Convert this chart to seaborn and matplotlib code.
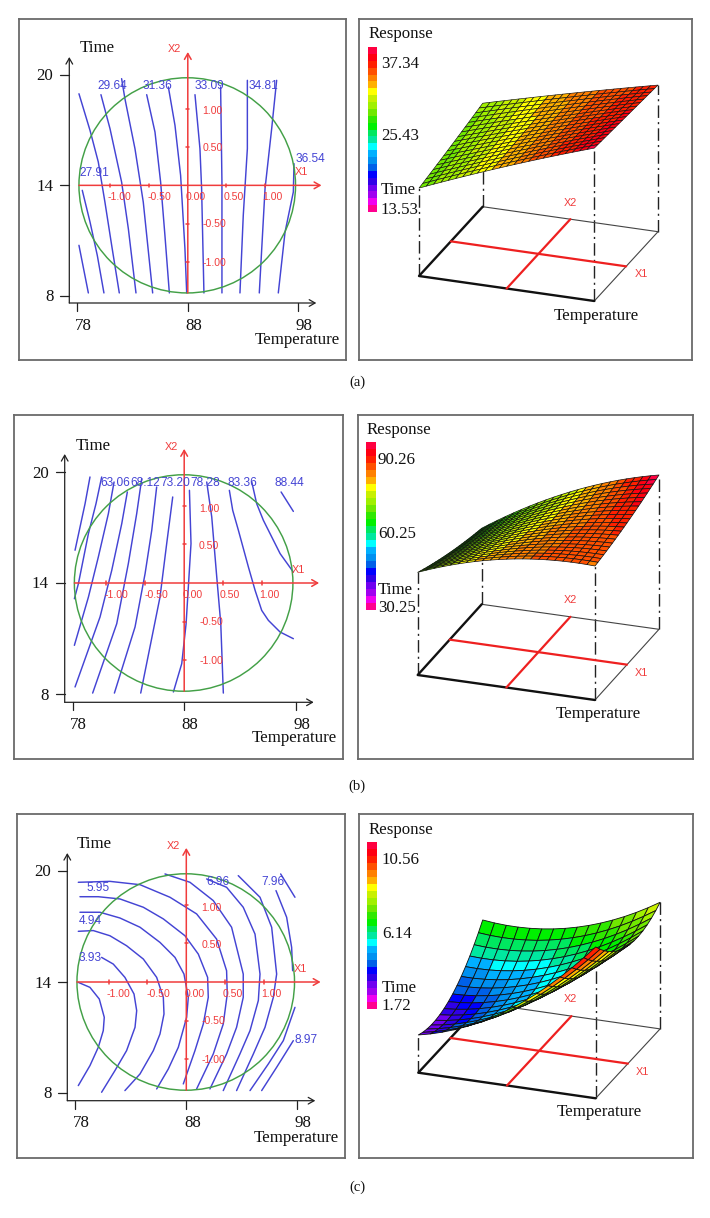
import numpy as np
import matplotlib
matplotlib.use("Agg")
import matplotlib.pyplot as plt
import seaborn as sns
from matplotlib.collections import PolyCollection
from matplotlib.colors import ListedColormap, Normalize
from matplotlib.patches import Ellipse

# ---------- contour lines: (temperature, time) ----------
contours_a = [
    ([78.15, 79.00], [10.74, 8.15]),
    ([78.45, 79.15, 79.81, 80.41], [13.73, 12.01, 10.19, 8.15]),
    ([78.15, 79.15, 79.90, 80.50, 81.11, 81.80], [18.98, 16.99, 15.27, 13.09, 10.74, 8.15]),
    ([80.14, 80.96, 82.01, 82.62, 83.31], [18.93, 17.08, 14.18, 11.64, 8.15]),
    ([82.01, 82.31, 83.22, 83.97, 84.82], [19.80, 18.71, 15.99, 13.09, 8.15]),
    ([84.28, 85.03, 85.54, 85.93, 86.33], [18.93, 16.90, 14.18, 11.28, 8.15]),
    ([86.24, 86.84, 87.35, 87.74, 87.90], [19.35, 17.26, 14.54, 10.56, 8.15]),
    ([88.65, 89.10, 89.25, 89.46], [18.93, 15.99, 13.82, 8.15]),
    ([90.97, 91.09, 91.09], [19.35, 14.18, 8.15]),
    ([93.39, 93.39, 93.02, 92.72], [19.71, 15.99, 12.37, 8.15]),
    ([96.04, 95.59, 94.99, 94.47], [19.71, 17.08, 13.82, 8.15]),
    ([97.61, 97.55, 96.80, 96.19], [15.18, 13.64, 11.46, 8.15]),
]
contours_b = [
    ([79.55, 79.11, 78.21], [19.73, 18.29, 15.77]),
    ([80.60, 80.09, 79.41, 78.51, 78.15], [19.73, 18.29, 16.67, 13.96, 13.15]),
    ([81.71, 81.20, 80.30, 79.41, 78.15], [19.46, 17.75, 15.41, 13.24, 10.63]),
    ([82.90, 82.40, 81.50, 80.45, 78.21], [18.92, 17.21, 14.68, 12.16, 8.38]),
    ([84.19, 83.74, 82.99, 81.95, 79.79], [19.64, 17.75, 15.05, 11.80, 8.05]),
    ([85.53, 85.09, 84.49, 83.59, 81.74], [19.19, 16.85, 14.50, 11.62, 8.05]),
    ([86.97, 86.43, 85.83, 84.10], [18.65, 16.13, 13.24, 8.05]),
    ([88.47, 88.61, 88.17, 87.78, 87.03], [19.01, 16.13, 11.80, 9.64, 8.11]),
    ([90.02, 90.47, 90.92, 91.28, 91.51], [19.46, 17.57, 14.32, 11.80, 8.05]),
    ([92.05, 92.35, 92.86, 93.76, 94.36, 94.95, 95.55, 96.60, 97.79],
     [19.01, 17.93, 16.85, 14.86, 13.60, 12.52, 11.98, 11.35, 10.99]),
    ([94.06, 94.50, 95.10, 95.70, 96.60, 97.79], [19.46, 18.29, 17.39, 16.67, 15.59, 14.59]),
    ([96.69, 97.79], [18.92, 17.87]),
]
contours_c = [
    ([78.27, 79.32, 80.16, 80.61, 80.52, 80.07, 79.32, 78.27],
     [13.98, 13.71, 13.08, 12.09, 11.37, 10.47, 9.48, 8.40]),
    ([80.37, 81.42, 82.47, 83.29, 83.53, 83.38, 82.62, 81.57, 80.37],
     [15.33, 14.97, 14.25, 13.35, 12.45, 11.55, 10.29, 9.21, 8.04]),
    ([78.27, 79.62, 81.12, 82.62, 84.13, 85.33, 85.93, 85.99, 85.63, 85.03, 83.83, 82.47],
     [16.74, 16.78, 16.50, 15.96, 15.24, 14.25, 13.17, 12.27, 11.19, 10.29, 9.03, 8.13]),
    ([78.42, 80.22, 82.02, 83.83, 85.63, 86.98, 87.79, 88.18, 88.03, 87.28, 86.38, 85.33],
     [17.77, 17.77, 17.46, 16.96, 16.14, 15.33, 14.43, 13.17, 12.09, 10.47, 9.30, 8.22]),
    ([78.42, 80.07, 82.02, 84.13, 85.93, 87.88, 89.08, 89.92, 89.98, 89.53, 88.78, 87.73],
     [18.61, 18.61, 18.49, 18.04, 17.41, 16.50, 15.51, 14.25, 13.17, 11.73, 10.29, 8.49]),
    ([78.27, 81.12, 83.83, 86.53, 88.93, 90.73, 91.63, 91.69, 91.33, 90.43, 88.93],
     [19.39, 19.44, 19.26, 18.58, 17.68, 16.32, 14.61, 13.35, 11.73, 10.11, 8.22]),
    ([86.08, 88.33, 90.43, 92.08, 93.13, 93.13, 92.53, 91.63, 90.13],
     [19.84, 19.39, 18.40, 16.96, 14.43, 13.17, 11.55, 10.11, 8.22]),
    ([89.83, 91.63, 93.13, 94.19, 94.64, 94.49, 93.74, 92.83, 91.33],
     [19.57, 19.12, 18.04, 16.59, 14.43, 13.00, 11.37, 10.11, 8.13]),
    ([92.68, 94.64, 95.69, 96.14, 95.84, 95.09, 94.04, 92.53],
     [19.75, 18.58, 16.96, 14.43, 13.17, 11.55, 10.11, 8.13]),
    ([96.08, 97.04, 97.49, 97.58], [18.94, 17.50, 15.87, 14.61]),
    ([97.79, 96.74, 95.39, 93.74], [12.63, 10.83, 9.57, 8.13]),
    ([96.50, 97.79], [19.84, 18.58]),
    ([97.64, 96.14, 94.79], [10.83, 9.39, 8.13]),
]

# Response read at nine grid nodes of each surface (rows: Time 20, 14, 8; columns:
# Temperature 78, 88, 98). The fine mesh is a drawing refinement through these nodes.
height_a = [[29.3, 33.6, 37.6], [27.7, 33.2, 38.2], [26.3, 32.9, 38.8]]
colour_a = [[29.5, 34.0, 37.0], [29.0, 33.8, 37.8], [28.5, 33.8, 39.0]]
height_b = [[51.5, 78.2, 94.2], [57.5, 77.8, 87.3], [66.0, 80.0, 83.1]]
colour_b = [[64.0, 76.0, 96.0], [66.0, 80.0, 90.0], [68.0, 84.0, 85.0]]
height_c = [[5.83, 6.17, 8.80], [2.86, 4.27, 8.19], [2.70, 5.26, 10.50]]
colour_c = [[7.2, 7.2, 8.6], [3.6, 5.4, 7.8], [2.4, 8.0, 11.2]]

labels_a = ["29.64", "31.36", "33.09", "34.81", "36.54", "27.91"]
labels_b = ["63.06", "68.12", "73.20", "78.28", "83.36", "88.44"]
labels_c = ["5.95", "6.96", "7.96", "4.94", "3.93", "8.97"]
bar_a = ["37.34", "25.43", "13.53"]
bar_b = ["90.26", "60.25", "30.25"]
bar_c = ["10.56", "6.14", "1.72"]
coded_ticks = ["-1.00", "-0.50", "0.00", "0.50", "1.00"]
coded_vals = [-1.0, -0.5, 0.5, 1.0]
axis_temps = [78, 88, 98]
axis_times = [20, 14, 8]

band_colours = ['#ff0040', '#ff0010', '#ff2000', '#ff5000', '#ff8000', '#ffb000', '#ffff00', '#c8f000',
                '#a0f000', '#70e800', '#30e800', '#00f000', '#00e860', '#00e8a0', '#00ffff', '#00b0ff',
                '#0090f0', '#0060e8', '#0000ff', '#3000e8', '#7000f0', '#a000f0', '#f000f0', '#ff0090']

sns.set_theme(style="white")
W, H = 710, 1218
fig = plt.figure(figsize=(W / 100, H / 100), dpi=100, facecolor="white")
SERIF = "Liberation Serif"
SANS = "Liberation Sans"
BLUE, RED, GREEN, FRAME = "#4444d4", "#f03c3c", "#43a047", "#6a6a6a"
overlay = fig.add_axes([0, 0, 1, 1], zorder=10)
overlay.set_xlim(0, W); overlay.set_ylim(H, 0); overlay.axis("off"); overlay.patch.set_alpha(0)


def put(x, y, s, size=12.2, color="#111111", family=SERIF, ha="center"):
    dy = 1.5 if family == SERIF else 0
    overlay.text(x, y + dy, s, fontsize=size, color=color, family=family, ha=ha, va="center")


def px_axes(x0, y0, x1, y1):
    ax = fig.add_axes([x0 / W, 1 - y1 / H, (x1 - x0) / W, (y1 - y0) / H])
    ax.set_xticks([]); ax.set_yticks([])
    for s in ax.spines.values():
        s.set_color(FRAME); s.set_linewidth(1.3); s.set_visible(True)
    return ax


def arrow(ax, a, b, color, lw):
    ax.annotate("", xy=b, xytext=a, annotation_clip=False,
                arrowprops=dict(arrowstyle="->,head_length=0.35,head_width=0.2", color=color, lw=lw,
                                shrinkA=0, shrinkB=0))


def left_panel(frame, x78, x98, y20, y8, spx, spy, lines, labels, label_pos, time_pos, temp_pos):
    ax = px_axes(*frame)
    sx = (x98 - x78) / 20.0
    sy = (y8 - y20) / 12.0
    T = lambda p: 78 + (p - x78) / sx
    t = lambda p: 20 - (p - y20) / sy
    for xs, ys in lines:
        sns.lineplot(x=xs, y=ys, sort=False, estimator=None, color=BLUE, lw=1.05, ax=ax, legend=False, zorder=2)
    ax.set_xlabel(""); ax.set_ylabel("")
    ax.set_xticks([]); ax.set_yticks([])
    ax.add_patch(Ellipse((87.95, 14), 19.6, 11.7, fill=False, ec=GREEN, lw=1.05, zorder=3))
    # black axes
    arrow(ax, (T(spx), t(spy)), (T(x98 + 18), t(spy)), "#222222", 0.9)
    arrow(ax, (T(spx), t(spy)), (T(spx), t(y20 - 18)), "#222222", 0.9)
    for v in axis_temps:
        ax.plot([v, v], [t(spy), t(spy + 8)], color="#222222", lw=0.9)
        put(x78 + (v - 78) * sx + 6, spy + 21, str(v))
    for v in axis_times:
        yp = y20 + (20 - v) * sy
        ax.plot([T(spx - 9), T(spx)], [v, v], color="#222222", lw=0.9)
        put(spx - 16, yp, str(v), ha="right")
    # red coded axes
    arrow(ax, (78.15, 14), (100.1, 14), RED, 1.1)
    arrow(ax, (88, 8.15), (88, 21.25), RED, 1.1)
    for c in coded_vals:
        ax.plot([88 + 7 * c] * 2, [13.9, 14.1], color=RED, lw=1.1, zorder=4)
        ax.plot([87.85, 88.15], [14 + 4.17 * c] * 2, color=RED, lw=1.1, zorder=4)
    ax.set_xlim(T(frame[0]), T(frame[2]))
    ax.set_ylim(t(frame[3]), t(frame[1]))
    cx, cy = x78 + 10 * sx, y20 + 6 * sy
    for s, dx in zip(coded_ticks, [-68, -28, 8, 46, 85]):
        put(cx + dx, cy + 12, s, 7.6, RED, SANS)
    for s, dx, dy in zip(["1.00", "0.50", "-0.50", "-1.00"], [25, 25, 27, 27], [-74, -37, 39, 78]):
        put(cx + dx, cy + dy, s, 7.6, RED, SANS)
    put(cx - 13, cy - 136, "X2", 7.8, RED, SANS)
    put(cx + 114, cy - 13, "X1", 7.8, RED, SANS)
    for s, (lx, ly) in zip(labels, label_pos):
        put(lx, ly, s, 8.6, BLUE, SANS)
    put(*time_pos, "Time")
    put(*temp_pos, "Temperature")
    return ax


def refine(nodes, n_x, n_y):
    u = np.linspace(-1, 1, n_x + 1)
    v = np.linspace(-1, 1, n_y + 1)
    basis = lambda s: np.array([s * (s - 1) / 2, 1 - s ** 2, s * (s + 1) / 2])
    return basis(v).T @ np.asarray(nodes, float) @ basis(u)


def right_panel(frame, FL, FR, BL, z0, k, hgt, col, vmin, vmax, n_x, n_y, edge_lw, bar_box, bar_ticks, bar_y,
                resp_pos, bar_x, time_y, x2_pos, x1_pos, temp_pos):
    ax = px_axes(*frame)
    ax.set_xlim(frame[0], frame[2]); ax.set_ylim(frame[3], frame[1])
    FL, FR, BL = np.array(FL, float), np.array(FR, float), np.array(BL, float)
    ex, ey = FR - FL, BL - FL
    BR = FR + ey

    def proj(xf, yf, z=None):
        xf, yf = np.asarray(xf, float), np.asarray(yf, float)
        p = FL + xf[..., None] * ex + yf[..., None] * ey
        if z is not None:
            p[..., 1] = p[..., 1] - (z - z0) * k
        return p

    Z = refine(hgt, n_x, n_y)
    C = refine(col, n_x, n_y)
    xf, yf = np.meshgrid(np.linspace(0, 1, n_x + 1), np.linspace(1, 0, n_y + 1))
    P = proj(xf, yf, Z)
    # verticals
    for (i, j), corner in zip([(-1, 0), (-1, -1), (0, -1), (0, 0)], [FL, FR, BR, BL]):
        ax.plot([corner[0], P[i, j, 0]], [corner[1], P[i, j, 1]], color="#222222", lw=1.0,
                ls=(0, (9, 3, 1.5, 3)), zorder=1)
    # floor
    ax.plot([BL[0], BR[0], FR[0]], [BL[1], BR[1], FR[1]], color="#444444", lw=0.8, zorder=1.5)
    ax.plot([BL[0], FL[0], FR[0]], [BL[1], FL[1], FR[1]], color="#111111", lw=1.7, zorder=1.5)
    a, b = proj(0.0, 0.5), proj(1.0, 0.5)
    ax.plot([a[0], b[0]], [a[1], b[1]], color="#ee2020", lw=1.6, zorder=1.6)
    a, b = proj(0.5, 0.0), proj(0.5, 1.0)
    ax.plot([a[0], b[0]], [a[1], b[1]], color="#ee2020", lw=1.6, zorder=1.6)
    # surface, back rows first
    quads, vals = [], []
    for r in range(n_y):
        for c in range(n_x):
            quads.append([P[r, c], P[r, c + 1], P[r + 1, c + 1], P[r + 1, c]])
            vals.append(C[r:r + 2, c:c + 2].mean())
    cmap = ListedColormap(band_colours[::-1])
    pc = PolyCollection(quads, facecolors=cmap(Normalize(vmin, vmax)(vals)), edgecolors="#101010",
                        linewidths=edge_lw, zorder=2)
    ax.add_collection(pc)
    # colour bar
    cax = fig.add_axes([bar_box[0] / W, 1 - bar_box[3] / H, (bar_box[2] - bar_box[0]) / W,
                        (bar_box[3] - bar_box[1]) / H], zorder=5)
    sns.heatmap(np.arange(len(band_colours))[:, None], cmap=ListedColormap(band_colours), cbar=False,
                ax=cax, xticklabels=False, yticklabels=False)
    put(*resp_pos, "Response")
    for s, y in zip(bar_ticks, bar_y):
        put(bar_x, y, s, ha="left")
    put(bar_x, time_y, "Time", ha="left")
    put(*x2_pos, "X2", 7.8, RED, SANS)
    put(*x1_pos, "X1", 7.8, RED, SANS)
    put(*temp_pos, "Temperature")


# ---------- panel a ----------
left_panel((19, 19, 346, 360), 77.3, 298.3, 75, 295.7, 69.3, 303, contours_a, labels_a,
           [(112, 86), (157, 86), (209, 86), (263, 86), (310, 159), (94, 173)], (97, 47), (297, 338))
right_panel((359, 19, 692, 360), (419, 276), (594.3, 301), (482.7, 206.7), 9.4, 5.2, height_a, colour_a,
            12.8, 39.7, 24, 18, 0.45, (367.5, 47, 377, 212), bar_a, (62, 134, 208), (401, 33), 381, 189,
            (570, 203), (641, 274), (596, 314))
put(357, 381, "(a)", 10.5)

# ---------- panel b ----------
left_panel((14, 415, 343, 759), 72.7, 295.7, 472, 694, 64.7, 702.3, contours_b, labels_b,
           [(115, 483), (145, 483), (175, 483), (205, 483), (242, 483), (289, 483)], (93, 444), (294, 737))
right_panel((358, 415, 693, 759), (417.7, 675), (595, 700), (481.7, 604.3), 10.0, 1.833, height_b, colour_b,
            28.9, 96.9, 22, 22, 0.5, (365.7, 442, 375.7, 610), bar_b, (459, 533, 607), (399, 428), 378, 588,
            (570, 600), (641, 673), (598, 713))
put(357, 785, "(b)", 10.5)

# ---------- panel c ----------
left_panel((17, 814, 345, 1158), 75.3, 297.3, 871, 1093, 67.3, 1100.7, contours_c, labels_c,
           [(98, 888), (218, 882), (273, 882), (90, 921), (90, 958), (306, 1040)], (94, 843), (296, 1136))
right_panel((359, 814, 693, 1158), (418.3, 1072.7), (595.7, 1098.3), (482.7, 1003.3), 0.11, 14.57, height_c,
            colour_c, 1.48, 11.6, 15, 15, 0.6, (366.7, 842, 376.7, 1009), bar_c, (859, 933, 1005), (401, 828), 382, 987,
            (570, 999), (642, 1072), (599, 1111))
put(357, 1186, "(c)", 10.5)

fig.savefig("out.png", dpi=100, facecolor="white")
